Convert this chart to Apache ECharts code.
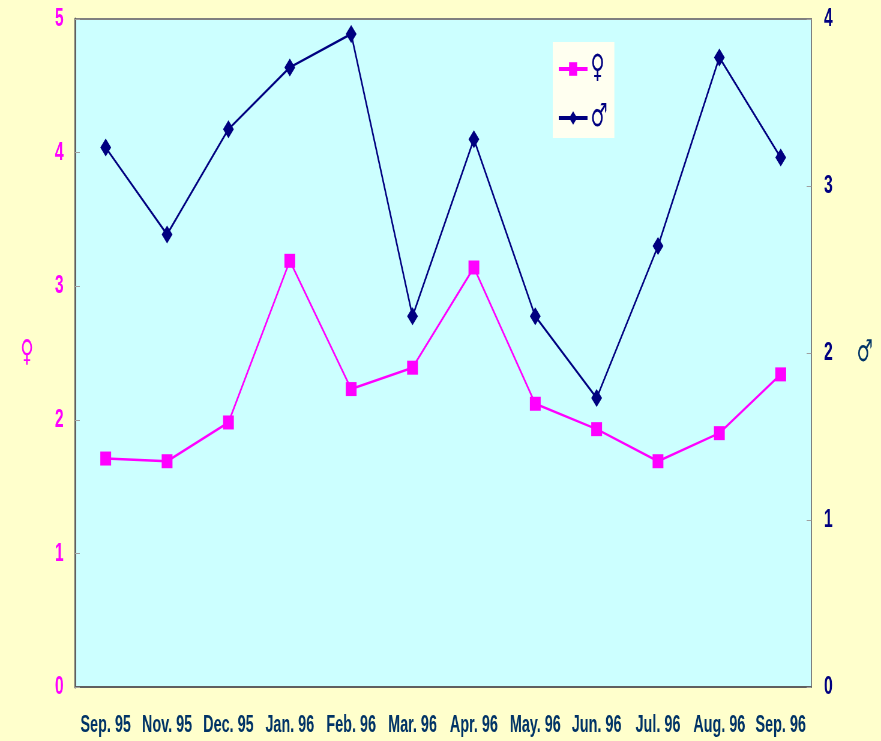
<!DOCTYPE html>
<html>
<head>
<meta charset="utf-8">
<script src="https://cdn.jsdelivr.net/npm/echarts@6/dist/echarts.min.js"></script>
<style>
  html, body { margin: 0; padding: 0; background: #FFFFCC; overflow: hidden; width: 881px; height: 741px; }
  /* The chart is laid out on a wider canvas and compressed horizontally,
     which gives the tall, narrow lettering and markers of this figure. */
  #chart { width: 1468px; height: 741px; transform: scaleX(0.60014); transform-origin: 0 0; }
</style>
</head>
<body>
<div id="chart"></div>
<script>
// Monthly values, Sep 1995 – Sep 1996
const months = ['Sep. 95', 'Nov. 95', 'Dec. 95', 'Jan. 96', 'Feb. 96', 'Mar. 96',
                'Apr. 96', 'May. 96', 'Jun. 96', 'Jul. 96', 'Aug. 96', 'Sep. 96'];
const femaleValues = [1.71, 1.69, 1.98, 3.19, 2.23, 2.39, 3.14, 2.12, 1.93, 1.69, 1.90, 2.34];
const maleValues   = [3.23, 2.71, 3.34, 3.71, 3.91, 2.22, 3.28, 2.22, 1.73, 2.64, 3.77, 3.17];
const leftTicks = { min: 0, max: 5, interval: 1 };
const rightTicks = { min: 0, max: 4, interval: 1 };

const FONT = '"Liberation Sans", Arial, sans-serif';
const SYMBOL_FONT = '"DejaVu Sans", sans-serif';
const MAGENTA = '#FF00FF';
const NAVY = '#000080';
const SLATE = '#003366';

const chart = echarts.init(document.getElementById('chart'), null, { renderer: 'canvas' });
chart.setOption({
  backgroundColor: '#FFFFCC',
  animation: false,
  grid: {
    left: 125, right: 116, top: 19, bottom: 54,
    show: true,
    backgroundColor: '#CCFFFF',
    borderColor: '#808080',
    borderWidth: 2
  },
  legend: {
    orient: 'vertical',
    left: 921, top: 42,
    padding: [11, 11, 4, 8],
    itemGap: 17,
    itemWidth: 48, itemHeight: 17,
    backgroundColor: '#FFFFF0',
    lineStyle: { width: 4 },
    textStyle: { color: NAVY, fontSize: 32, lineHeight: 32, fontFamily: SYMBOL_FONT },
    data: ['♀', '♂']
  },
  xAxis: {
    type: 'category',
    data: months,
    boundaryGap: true,
    axisLine: { lineStyle: { color: '#606060', width: 2 } },
    axisTick: { inside: true, length: 5, lineStyle: { color: '#A0A0A0', width: 2 } },
    axisLabel: {
      interval: 0, margin: 26,
      color: SLATE, fontSize: 24, fontWeight: 'bold', fontFamily: FONT
    }
  },
  yAxis: [
    {
      type: 'value',
      position: 'left',
      min: leftTicks.min, max: leftTicks.max, interval: leftTicks.interval,
      name: '♀',
      nameLocation: 'middle', nameGap: 80, nameRotate: 0,
      nameTextStyle: {
        color: MAGENTA, fontSize: 30, fontWeight: 'bold', fontFamily: SYMBOL_FONT,
        align: 'center', verticalAlign: 'middle'
      },
      axisLine: { show: true, lineStyle: { color: '#606060', width: 3 } },
      axisTick: { show: true, inside: true, length: 8, lineStyle: { color: '#A0A0A0', width: 1 } },
      splitLine: { show: false },
      axisLabel: { margin: 19, color: MAGENTA, fontSize: 26, fontWeight: 'bold', fontFamily: FONT }
    },
    {
      type: 'value',
      position: 'right',
      min: rightTicks.min, max: rightTicks.max, interval: rightTicks.interval,
      name: '♂',
      nameLocation: 'middle', nameGap: 89, nameRotate: 0,
      nameTextStyle: {
        color: SLATE, fontSize: 30, fontWeight: 'bold', fontFamily: SYMBOL_FONT,
        align: 'center', verticalAlign: 'middle'
      },
      axisLine: { show: true, lineStyle: { color: '#808080', width: 2 } },
      axisTick: { show: true, inside: true, length: 8, lineStyle: { color: '#A0A0A0', width: 1 } },
      splitLine: { show: false },
      axisLabel: { margin: 21, color: NAVY, fontSize: 26, fontWeight: 'bold', fontFamily: FONT }
    }
  ],
  series: [
    {
      name: '♀',
      type: 'line',
      yAxisIndex: 0,
      data: femaleValues,
      symbol: 'rect',
      symbolSize: [18, 14],
      itemStyle: { color: MAGENTA },
      lineStyle: { color: MAGENTA, width: 2.5 }
    },
    {
      name: '♂',
      type: 'line',
      yAxisIndex: 1,
      data: maleValues,
      symbol: 'diamond',
      symbolSize: [18, 18],
      itemStyle: { color: NAVY },
      lineStyle: { color: NAVY, width: 2.5 }
    }
  ]
});
</script>
</body>
</html>
